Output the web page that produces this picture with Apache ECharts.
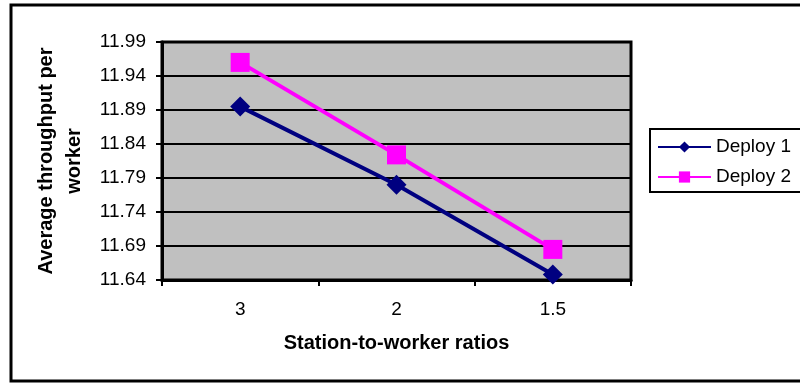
<!DOCTYPE html>
<html>
<head>
<meta charset="utf-8">
<script src="https://cdn.jsdelivr.net/npm/echarts@6/dist/echarts.min.js"></script>
<style>html,body{margin:0;padding:0;background:#fff}#c{width:800px;height:383px}</style>
</head>
<body>
<div id="c"></div>
<script>
var categories = ['3', '2', '1.5'];
var deploy1 = [11.895, 11.78, 11.648];
var deploy2 = [11.96, 11.824, 11.685];
var yTickLabels = ['11.64', '11.69', '11.74', '11.79', '11.84', '11.89', '11.94', '11.99'];
var yBase = 11.64, yStep = 0.05;

var font = '"Liberation Sans", Arial, sans-serif';
function off(arr){ return arr.map(function(v){ return +(v - yBase).toFixed(4); }); }

var chart = echarts.init(document.getElementById('c'), null, {renderer:'canvas'});
chart.setOption({
  animation: false,
  backgroundColor: '#fff',
  textStyle: {fontFamily: font},
  graphic: [{
    type: 'rect', z: -10, silent: true,
    shape: {x: 11, y: 5, width: 800, height: 376},
    style: {fill: 'none', stroke: '#000', lineWidth: 3}
  }, {
    type: 'rect', z: -5, silent: true,
    shape: {x: 650, y: 129, width: 170, height: 63},
    style: {fill: '#fff', stroke: '#000', lineWidth: 2}
  }],
  grid: {
    left: 162, top: 42, right: 169, bottom: 103,
    show: true, backgroundColor: '#C0C0C0', borderColor: '#000', borderWidth: 3
  },
  legend: {
    orient: 'vertical', left: 650, top: 129,
    borderWidth: 0,
    padding: [7, 4, 4, 7], itemWidth: 53, itemHeight: 14, itemGap: 8,
    textStyle: {fontSize: 19, lineHeight: 22, color: '#000', fontFamily: font},
    data: ['Deploy 1', 'Deploy 2']
  },
  xAxis: {
    type: 'category', data: categories, boundaryGap: true,
    name: 'Station-to-worker ratios', nameLocation: 'middle', nameGap: 53,
    nameTextStyle: {fontSize: 20, fontWeight: 'bold', color: '#000', fontFamily: font},
    axisLine: {lineStyle: {color: '#000', width: 3}},
    axisTick: {show: true, length: 6, lineStyle: {color: '#000', width: 2}},
    axisLabel: {fontSize: 19, color: '#000', margin: 20, fontFamily: font},
    splitLine: {show: false}
  },
  yAxis: {
    type: 'value', min: 0, max: +(yStep * (yTickLabels.length - 1)).toFixed(2), interval: yStep,
    name: 'Average throughput per\nworker', nameLocation: 'middle', nameGap: 72, nameRotate: 90,
    nameTextStyle: {fontSize: 20, fontWeight: 'bold', color: '#000', fontFamily: font, lineHeight: 28, align: 'center'},
    axisLine: {show: true, lineStyle: {color: '#000', width: 3}},
    axisTick: {show: true, length: 6, lineStyle: {color: '#000', width: 2}},
    axisLabel: {fontSize: 19, color: '#000', margin: 16, fontFamily: font,
      formatter: function(v){ var i = Math.round(v / yStep); return yTickLabels[i] || ''; }},
    splitLine: {show: true, lineStyle: {color: '#000', width: 2}}
  },
  series: [{
    name: 'Deploy 1', type: 'line', data: off(deploy1),
    symbol: 'diamond', symbolSize: 20,
    lineStyle: {color: '#000080', width: 4},
    itemStyle: {color: '#000080'}
  }, {
    name: 'Deploy 2', type: 'line', data: off(deploy2),
    symbol: 'rect', symbolSize: 19,
    lineStyle: {color: '#FF00FF', width: 4},
    itemStyle: {color: '#FF00FF'}
  }]
});
</script>
</body>
</html>
